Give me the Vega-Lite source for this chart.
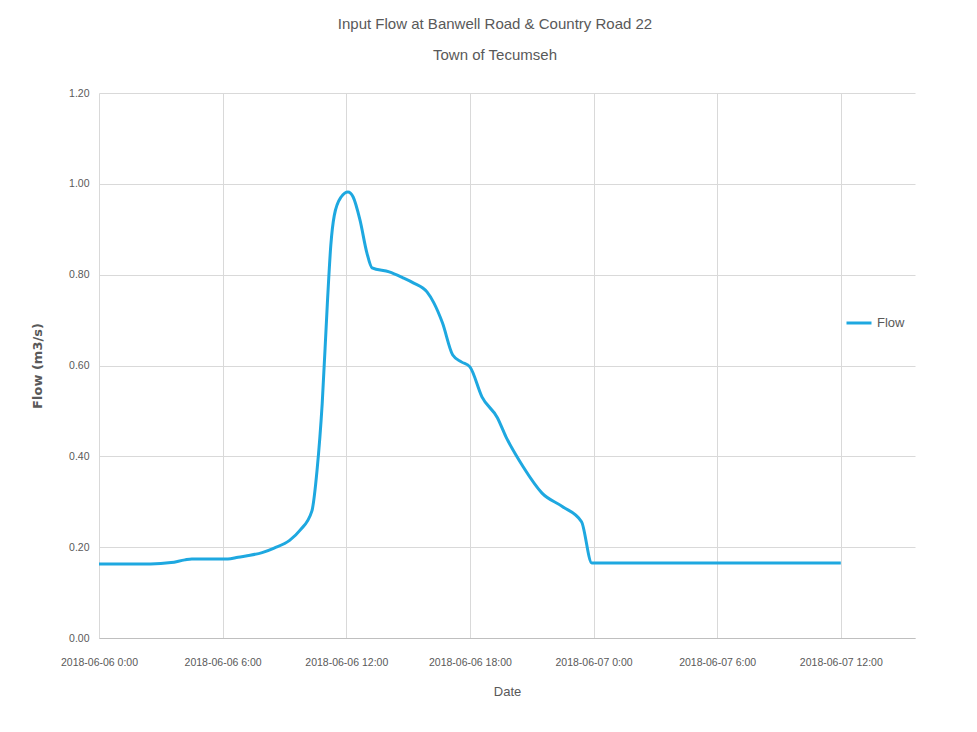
{
  "autosize": {"type": "none"},
  "width": 816,
  "height": 545,
  "padding": {"left": 99, "top": 93, "right": 62, "bottom": 94},
  "background": "white",
  "title": {
    "text": ["Input Flow at Banwell Road & Country Road 22", "Town of Tecumseh"],
    "font": "Liberation Sans",
    "fontSize": 15,
    "fontWeight": "normal",
    "color": "#595959",
    "anchor": "middle",
    "dx": -12,
    "offset": 25,
    "lineHeight": 31
  },
  "data": {
    "values": [
      {"time": "2018-06-06T00:00", "flow": 0.163},
      {"time": "2018-06-06T02:30", "flow": 0.163},
      {"time": "2018-06-06T03:30", "flow": 0.166},
      {"time": "2018-06-06T04:10", "flow": 0.172},
      {"time": "2018-06-06T04:30", "flow": 0.174},
      {"time": "2018-06-06T06:15", "flow": 0.174},
      {"time": "2018-06-06T06:45", "flow": 0.178},
      {"time": "2018-06-06T07:20", "flow": 0.182},
      {"time": "2018-06-06T07:55", "flow": 0.188},
      {"time": "2018-06-06T08:30", "flow": 0.198},
      {"time": "2018-06-06T09:15", "flow": 0.215},
      {"time": "2018-06-06T09:45", "flow": 0.237},
      {"time": "2018-06-06T10:20", "flow": 0.28},
      {"time": "2018-06-06T10:35", "flow": 0.37},
      {"time": "2018-06-06T10:50", "flow": 0.517},
      {"time": "2018-06-06T11:05", "flow": 0.738},
      {"time": "2018-06-06T11:15", "flow": 0.865},
      {"time": "2018-06-06T11:25", "flow": 0.93},
      {"time": "2018-06-06T11:45", "flow": 0.971},
      {"time": "2018-06-06T12:05", "flow": 0.982},
      {"time": "2018-06-06T12:20", "flow": 0.971},
      {"time": "2018-06-06T12:40", "flow": 0.92},
      {"time": "2018-06-06T13:00", "flow": 0.848},
      {"time": "2018-06-06T13:15", "flow": 0.815},
      {"time": "2018-06-06T14:05", "flow": 0.806},
      {"time": "2018-06-06T14:45", "flow": 0.793},
      {"time": "2018-06-06T15:15", "flow": 0.782},
      {"time": "2018-06-06T15:55", "flow": 0.762},
      {"time": "2018-06-06T16:15", "flow": 0.738},
      {"time": "2018-06-06T16:40", "flow": 0.694},
      {"time": "2018-06-06T17:10", "flow": 0.623},
      {"time": "2018-06-06T17:35", "flow": 0.608},
      {"time": "2018-06-06T18:00", "flow": 0.597},
      {"time": "2018-06-06T18:35", "flow": 0.531},
      {"time": "2018-06-06T19:20", "flow": 0.485},
      {"time": "2018-06-06T19:45", "flow": 0.443},
      {"time": "2018-06-06T20:35", "flow": 0.377},
      {"time": "2018-06-06T21:30", "flow": 0.319},
      {"time": "2018-06-06T22:30", "flow": 0.289},
      {"time": "2018-06-06T23:25", "flow": 0.256},
      {"time": "2018-06-06T23:55", "flow": 0.165},
      {"time": "2018-06-07T06:00", "flow": 0.165},
      {"time": "2018-06-07T12:00", "flow": 0.165}
    ]
  },
  "mark": {"type": "line", "strokeWidth": 3, "interpolate": "monotone"},
  "encoding": {
    "x": {
      "field": "time",
      "type": "temporal",
      "title": "Date",
      "scale": {
        "domain": [
          {"year": 2018, "month": 6, "date": 6, "hours": 0, "minutes": 0},
          {"year": 2018, "month": 6, "date": 7, "hours": 15, "minutes": 36}
        ]
      },
      "axis": {
        "values": [
          {"year": 2018, "month": 6, "date": 6, "hours": 0},
          {"year": 2018, "month": 6, "date": 6, "hours": 6},
          {"year": 2018, "month": 6, "date": 6, "hours": 12},
          {"year": 2018, "month": 6, "date": 6, "hours": 18},
          {"year": 2018, "month": 6, "date": 7, "hours": 0},
          {"year": 2018, "month": 6, "date": 7, "hours": 6},
          {"year": 2018, "month": 6, "date": 7, "hours": 12}
        ],
        "labelExpr": "year(datum.value) + '-0' + (month(datum.value) + 1) + '-0' + date(datum.value) + ' ' + hours(datum.value) + ':00'",
        "labelFlush": false,
        "labelOverlap": false,
        "grid": true,
        "gridColor": "#d9d9d9",
        "domainColor": "#bfbfbf",
        "ticks": false,
        "labelPadding": 19,
        "titlePadding": 18
      }
    },
    "y": {
      "field": "flow",
      "type": "quantitative",
      "title": "Flow (m3/s)",
      "scale": {"domain": [0, 1.2], "nice": false},
      "axis": {
        "values": [0, 0.2, 0.4, 0.6, 0.8, 1.0, 1.2],
        "format": ".2f",
        "grid": true,
        "gridColor": "#d9d9d9",
        "domain": false,
        "ticks": false,
        "labelPadding": 10,
        "titlePadding": 24,
        "titleFontWeight": "bold",
        "titleFont": "DejaVu Sans",
        "titleFontSize": 13,
        "titleColor": "#595959"
      }
    },
    "color": {
      "datum": "Flow",
      "scale": {"range": ["#1ea8e0"]},
      "legend": {
        "title": null,
        "orient": "none",
        "legendX": 746,
        "legendY": 216,
        "symbolType": "stroke",
        "symbolSize": 625,
        "symbolStrokeWidth": 3,
        "labelFont": "Liberation Sans",
        "labelFontSize": 13,
        "labelColor": "#595959",
        "labelOffset": 4
      }
    }
  },
  "config": {
    "view": {"stroke": null},
    "axis": {
      "labelFont": "Liberation Sans",
      "labelFontSize": 10.5,
      "labelColor": "#595959",
      "titleFont": "Liberation Sans",
      "titleFontSize": 13,
      "titleFontWeight": "normal",
      "titleColor": "#595959"
    }
  }
}
